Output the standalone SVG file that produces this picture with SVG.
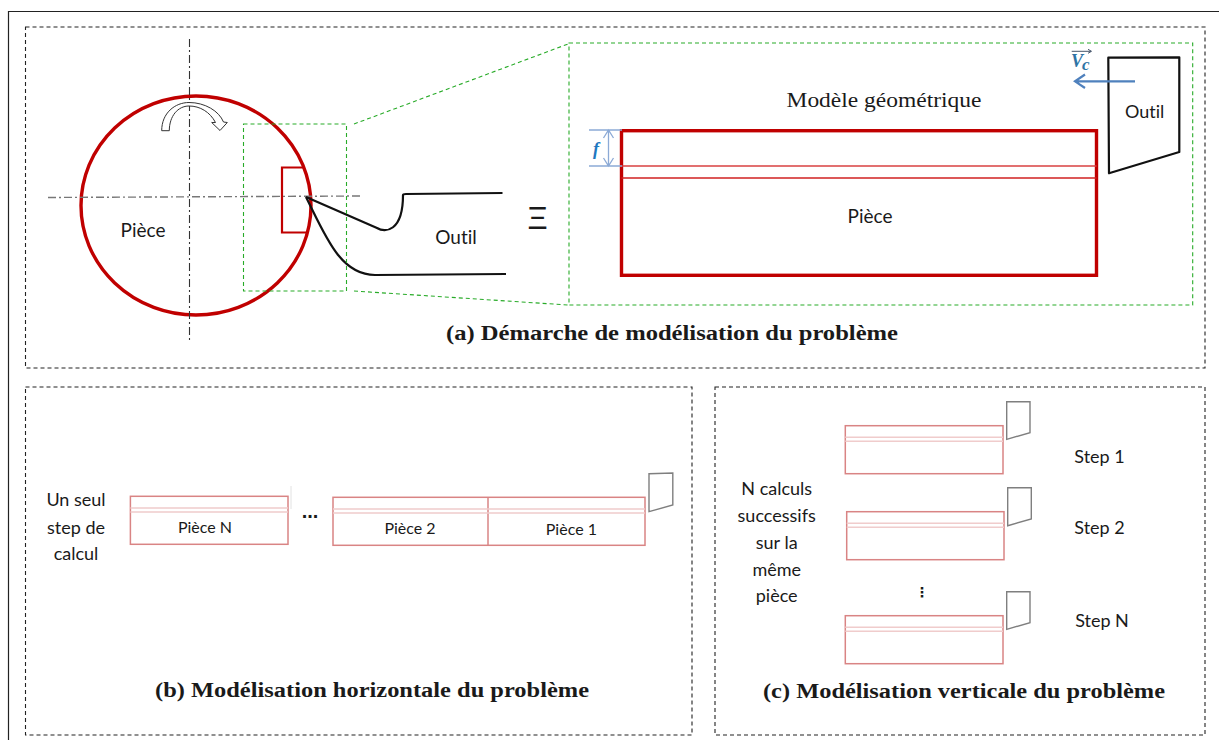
<svg xmlns="http://www.w3.org/2000/svg" width="1219" height="740" viewBox="0 0 1219 740">
<style>
.panel{fill:none;stroke:#222;stroke-width:1.1;stroke-dasharray:4 3}
.zoom{fill:none;stroke:#28ab28;stroke-width:1.1;stroke-dasharray:4 3}
.axis{fill:none;stroke:#333;stroke-width:1.1;stroke-dasharray:8 3 2 3}
.thick{fill:none;stroke:#c00000;stroke-width:3.4}
.thin{fill:none;stroke:#c00000;stroke-width:1.5}
.tool{fill:none;stroke:#111;stroke-width:2.2;stroke-linejoin:round}
.mini{fill:none;stroke:#d98484;stroke-width:1.5}
.miniline{fill:none;stroke:#f0cccc;stroke-width:1.5}
.minitool{fill:none;stroke:#7f7f7f;stroke-width:1.4}
.dim{fill:none;stroke:#8caad6;stroke-width:1.3}
.vc{fill:none;stroke:#4f81bd;stroke-width:2.2}
text{fill:#1a1a1a}
.sans{font-family:"Lato","Noto Sans",sans-serif;text-anchor:middle;font-variant-ligatures:none}
.l19{font-size:19px}
.l18{font-size:18px}
.l16{font-size:16px}
.cap{font-family:"Liberation Serif",serif;font-weight:bold;font-size:20px}
</style>
<rect width="1219" height="740" fill="#fff"/>
<path id="frame" d="M1219 11.5H8.5V740" fill="none" stroke="#222" stroke-width="1.2"/>
<g id="panel-a">
<rect class="panel" x="25.5" y="27" width="1179.5" height="341"/>
<text class="cap" x="446" y="340" textLength="452" lengthAdjust="spacingAndGlyphs">(a) Démarche de modélisation du problème</text>
</g>
<g id="panel-b">
<rect class="panel" x="25.5" y="387" width="666.5" height="348"/>
<text class="cap" x="155" y="697" textLength="434" lengthAdjust="spacingAndGlyphs">(b) Modélisation horizontale du problème</text>
</g>
<g id="panel-c">
<rect class="panel" x="715" y="387" width="490" height="348"/>
<text class="cap" x="763" y="698" textLength="402" lengthAdjust="spacingAndGlyphs">(c) Modélisation verticale du problème</text>
</g>
<g id="workpiece-round">
<ellipse class="thick" cx="196" cy="205.5" rx="115" ry="109.5"/>
<path d="M305 167.5H282V232.5H307" fill="none" stroke="#c00000" stroke-width="2.2"/>
<text class="sans l19" x="143" y="237">Pièce</text>
</g>
<g id="axes">
<line class="axis" x1="189.5" y1="39" x2="189.5" y2="341"/>
<line class="axis" x1="48" y1="197.5" x2="362.5" y2="196" style="stroke:#777;stroke-width:1.4"/>
</g>
<path id="rotation" d="M161.7 130.7C161.7 113 175 102.5 189 102.5C205 102.5 219 111 223.5 122L227.3 122.5L220 130.5L211.7 122.5L215.5 122.5C210 112 200 106 189 106C178 106 169.3 116 169.3 130.7Z" fill="#fff" stroke="#333" stroke-width="1"/>
<g id="tool-real">
<path class="tool" d="M306 197L377 228C385 233 403 232 403 195Q403 194 406 194L502.5 193"/>
<path class="tool" d="M306 197C325 235 340 275 375 275L506 274"/>
<text class="sans l19" x="456" y="244">Outil</text>
</g>
<text id="equiv" x="537.5" y="229" font-family="Liberation Sans, sans-serif" font-size="31" text-anchor="middle">Ξ</text>
<g id="connectors">
<rect class="zoom" x="243.5" y="124" width="103" height="167"/>
<line class="zoom" x1="354" y1="124" x2="568" y2="44"/>
<line class="zoom" x1="354" y1="291" x2="568" y2="305"/>
<rect class="zoom" x="569" y="43" width="623.7" height="262"/>
</g>
<g id="model">
<text x="884" y="107" text-anchor="middle" font-family="Liberation Serif, serif" font-size="22" textLength="195" lengthAdjust="spacingAndGlyphs">Modèle géométrique</text>
<rect class="thick" x="621.5" y="130.7" width="475" height="144.6"/>
<line class="thin" x1="621.5" y1="166" x2="1096.5" y2="166" style="stroke:#d94040"/>
<line class="thin" x1="621.5" y1="178" x2="1096.5" y2="178" style="stroke:#d02020"/>
<text class="sans l19" x="870" y="223">Pièce</text>
</g>
<g id="feed">
<path class="dim" d="M589 130H622M589 166H622M608.5 130V166M603.5 138L608.5 130L613.5 138M603.5 158L608.5 166L613.5 158"/>
<text x="596" y="155" text-anchor="middle" font-family="Liberation Serif, serif" font-style="italic" font-weight="bold" font-size="18" style="fill:#1f78c0">f</text>
</g>
<g id="tool-model">
<path class="tool" d="M1108.3 57.7L1179.3 57.3V152L1109 173.3Z"/>
<text class="sans l18" x="1144.6" y="118">Outil</text>
</g>
<g id="cutting-speed">
<path class="vc" d="M1135 81.3H1075M1085 74.5L1075 81.3L1085 88"/>
<path d="M1071.7 51.3H1091M1088 49.3L1091.5 51.3L1088 53.3" fill="none" stroke="#44546a" stroke-width="1"/>
<text x="1071" y="67" font-family="Liberation Serif, serif" font-style="italic" font-weight="bold" font-size="18" style="fill:#2e74a5">V</text>
<text x="1082" y="70" font-family="Liberation Serif, serif" font-style="italic" font-weight="bold" font-size="17" style="fill:#2e74a5">c</text>
</g>
<g id="horizontal-model">
<text class="sans l18" x="76" y="506">Un seul</text>
<text class="sans l18" x="76" y="534">step de</text>
<text class="sans l18" x="76" y="560">calcul</text>
<line x1="291" y1="486" x2="291" y2="509" stroke="#e2e2e2" stroke-width="1"/>
<g id="piece-n">
<rect class="mini" x="130.4" y="496.3" width="157.6" height="48"/>
<path class="miniline" d="M130.4 508H288M130.4 512H288"/>
<text class="sans l16" x="205" y="532.5">Pièce N</text>
</g>
<text x="310" y="518" text-anchor="middle" font-family="Liberation Sans, sans-serif" font-size="20" font-weight="bold">...</text>
<g id="piece-2-1">
<rect class="mini" x="333" y="497.3" width="312" height="48"/>
<line class="mini" x1="488" y1="497.3" x2="488" y2="545.3"/>
<path class="miniline" d="M333 509H645M333 513H645"/>
<text class="sans l16" x="410" y="534">Pièce 2</text>
<text class="sans l16" x="571.4" y="535">Pièce 1</text>
</g>
<path class="minitool" d="M649 473.7L672.8 473V505L649 511.7Z"/>
</g>
<g id="vertical-model">
<text class="sans l18" x="776.7" y="495">N calculs</text>
<text class="sans l18" x="776.7" y="522">successifs</text>
<text class="sans l18" x="776.7" y="549">sur la</text>
<text class="sans l18" x="776.7" y="575.5">même</text>
<text class="sans l18" x="776.7" y="602">pièce</text>
<g id="step-1">
<rect class="mini" x="845.3" y="425.7" width="157.7" height="48"/>
<path class="miniline" d="M845.3 437.3H1003M845.3 441.3H1003"/>
<path class="minitool" d="M1006.7 401.7H1030V432.7L1006.7 439.3Z"/>
<text class="sans l18" x="1099.5" y="462.7">Step 1</text>
</g>
<g id="step-2">
<rect class="mini" x="846.7" y="511.7" width="157.3" height="48"/>
<path class="miniline" d="M846.7 523.3H1004M846.7 527.3H1004"/>
<path class="minitool" d="M1007.7 487.7H1031.3V519L1007.7 525.7Z"/>
<text class="sans l18" x="1099.5" y="534.3">Step 2</text>
</g>
<text x="922" y="597" text-anchor="middle" font-family="DejaVu Sans, sans-serif" font-size="14" font-weight="bold">⋮</text>
<g id="step-n">
<rect class="mini" x="845.3" y="615.7" width="157.7" height="48"/>
<path class="miniline" d="M845.3 627.3H1003M845.3 631.3H1003"/>
<path class="minitool" d="M1006.7 591.7H1030V622.7L1006.7 629.3Z"/>
<text class="sans l18" x="1102" y="627">Step N</text>
</g>
</g>
</svg>
